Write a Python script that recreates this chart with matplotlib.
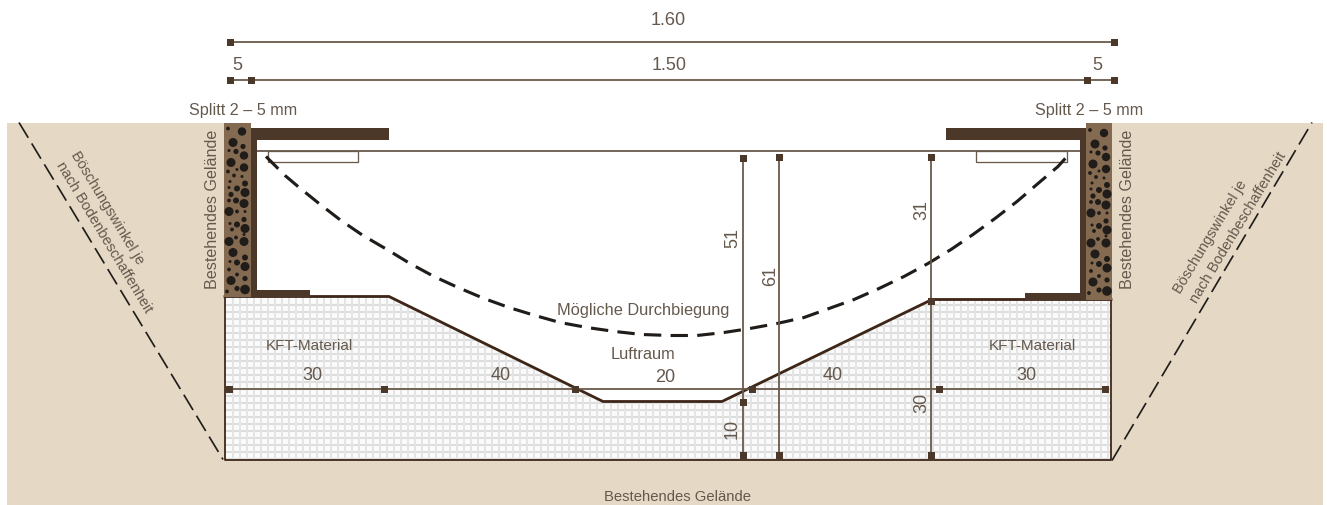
import matplotlib
matplotlib.use("Agg")
import matplotlib.pyplot as plt
from matplotlib.patches import Polygon, Rectangle, Circle

plt.rcParams["font.family"] = ["Liberation Sans", "DejaVu Sans"]

TAN = "#e5d9c6"
GRAVEL = "#836a50"
DARK = "#4b3828"
PROFILE = "#3d2617"
DIM = "#6a5a4a"
TEXT = "#65584c"
BLACK = "#1f1c1a"

# all coordinates are pixels of the reference
profile_x = [225, 389, 603, 722, 932, 1111]
profile_y = [297, 297, 402, 402, 300, 300]
pit_bottom = 460

sag_x = [266, 285, 298, 319, 341, 363, 387, 410, 434, 458, 484, 509, 535, 560, 587, 615, 642, 670, 697,
         724, 750, 777, 804, 829, 854, 879, 904, 928, 951, 973, 995, 1017, 1038, 1058, 1067]
sag_y = [157, 176, 187, 204, 221, 236, 250, 264, 277, 288, 299, 308, 316, 323, 328, 332, 335, 336, 336,
         333, 329, 324, 318, 309, 300, 289, 277, 264, 250, 235, 219, 202, 184, 167, 157]

slope_left_x = [19, 223]
slope_left_y = [123, 460]
slope_right_x = [1112, 1312]
slope_right_y = [461, 123]

# gravel dots, x offset from the left edge of the strip, y, radius
dots_x = [4, 18, 9, 19, 5, 12, 20, 7, 20, 13, 4, 10, 18, 6, 21, 5, 13, 21, 7, 12, 5, 20, 5, 13,
          21, 20, 6, 13, 21, 8, 20, 5, 12, 20, 9, 21, 6, 13, 21, 5, 13, 7, 21, 3, 13, 21]
dots_y = [129, 132, 143, 147, 151, 152, 156, 163, 168, 170, 172, 176, 177, 182, 184, 188, 189, 193,
          195, 201, 201, 204, 212, 212, 212, 220, 224, 225, 229, 230, 235, 242, 238, 242, 253, 258,
          262, 263, 267, 270, 275, 281, 279, 292, 289, 290]
dots_r = [1.9, 4.2, 4.5, 2.6, 1.5, 2.6, 4.2, 4.5, 4.2, 1.5, 1.9, 1.9, 1.5, 1.5, 3, 1.5, 3, 4.5, 2.6,
          3, 1.9, 4.5, 4.5, 1.9, 1.5, 2.6, 1.5, 3, 4.5, 1.9, 1.5, 4.5, 1.9, 4.5, 4.5, 3, 1.5, 3, 4.5,
          1.9, 1.9, 4.5, 2.6, 1.9, 2.6, 4.8]

dim_h = [
    (42, 230, 1114, [230, 1114]),
    (80, 230, 1114, [230, 251, 1087, 1114]),
    (389, 229, 1105, [229, 384, 575, 752, 939, 1105]),
]
dim_v = [
    (743, 158, 455, [158, 402, 455]),
    (779, 157, 455, [157, 455]),
    (931, 157, 455, [157, 301, 455]),
]

labels = [
    ("1.60", 668, 20, 0, 13),
    ("5", 237, 65, 0, 13),
    ("1.50", 669, 65, 0, 13),
    ("5", 1097, 65, 0, 13),
    ("Splitt 2 – 5 mm", 243, 110, 0, 11.6),
    ("Splitt 2 – 5 mm", 1089, 110, 0, 11.6),
    ("Bestehendes Gelände", 212.5, 209, 90, 11.6),
    ("Bestehendes Gelände", 1127.5, 209, 90, 11.6),
    ("Bestehendes Gelände", 678, 497, 0, 10.7),
    ("Mögliche Durchbiegung", 643, 310, 0, 11.8),
    ("Luftraum", 643, 354, 0, 11.8),
    ("KFT-Material", 309, 345, 0, 11),
    ("KFT-Material", 1032, 345, 0, 11),
    ("30", 312, 375, 0, 13),
    ("40", 501, 375, 0, 13),
    ("20", 665, 377, 0, 13),
    ("40", 833, 375, 0, 13),
    ("30", 1026, 375, 0, 13),
    ("51", 732.5, 237, 90, 13),
    ("61", 770.5, 275, 90, 13),
    ("31", 921.5, 210, 90, 13),
    ("10", 732.5, 428, 90, 13),
    ("30", 921.5, 402, 90, 13),
    ("Böschungswinkel je", 107, 207, -59, 10.5),
    ("nach Bodenbeschaffenheit", 104, 237, -59, 10.5),
    ("Böschungswinkel je", 1210, 236, 59, 10.5),
    ("nach Bodenbeschaffenheit", 1238, 227, 59, 10.5),
]

px = 72 / 100  # one reference pixel in points

fig = plt.figure(figsize=(13.27, 5.06), dpi=100)
ax = fig.add_axes([0, 0, 1, 1])
ax.set_xlim(0, 1327)
ax.set_ylim(505.5, -0.5)
ax.axis("off")

# ground and white trench
ax.add_patch(Rectangle((7, 123), 1316, 382, fc=TAN, ec="none", zorder=1))
ax.add_patch(Rectangle((224, 123), 888, 280, fc="white", ec="none", zorder=1))

# fill with its grid
pit_pts = list(zip(profile_x, profile_y)) + [(1111, pit_bottom), (225, pit_bottom)]
pit = Polygon(pit_pts, closed=True, fc="#fbfbfb", ec="none", zorder=2)
ax.add_patch(pit)
for y in range(305, pit_bottom, 7):
    line, = ax.plot([225, 1111], [y, y], color="#dcdddd", lw=2.1 * px, zorder=2.1, solid_capstyle="butt")
    line.set_clip_path(pit)
for x in range(233, 1111, 7):
    line, = ax.plot([x, x], [297, pit_bottom], color="#e4e4e4", lw=2 * px, zorder=2.1, solid_capstyle="butt")
    line.set_clip_path(pit)
ax.plot(profile_x, profile_y, color=PROFILE, lw=2.8 * px, zorder=3, solid_joinstyle="miter")
ax.plot([225, 225, 1111, 1111], [297, pit_bottom, pit_bottom, 300], color=PROFILE, lw=1.8 * px, zorder=3)

# gravel strips, walls, plates
for left, bottom in [(224, 297), (1086, 300)]:
    ax.add_patch(Rectangle((left, 123), 27 if left == 224 else 26, bottom - 123, fc=GRAVEL, ec="none", zorder=3))
    for dx, dy, r in zip(dots_x, dots_y, dots_r):
        ax.add_patch(Circle((left + dx, dy + (bottom - 297) / 2), r, fc=BLACK, ec="none", zorder=3.2))

for x, y, w, h in [(251, 128, 138, 12), (251, 128, 6, 169), (251, 290, 59, 7),
                   (946, 128, 140, 12), (1080, 128, 6, 172), (1025, 293, 61, 7)]:
    ax.add_patch(Rectangle((x, y), w, h, fc=DARK, ec="none", zorder=3.5))

# top line and the small boxes below it
ax.plot([257, 1080], [151, 151], color=DARK, lw=1.5 * px, zorder=3)
ax.add_patch(Rectangle((268, 151), 90, 11, fc="white", ec=DIM, lw=1.3 * px, zorder=3))
ax.add_patch(Rectangle((976, 151), 91, 11, fc="white", ec=DIM, lw=1.3 * px, zorder=3))

# dashed lines
ax.plot(sag_x, sag_y, color=BLACK, lw=3.1 * px, dashes=(5.6, 3.0), dash_capstyle="butt", zorder=4)
ax.plot(slope_left_x, slope_left_y, color=BLACK, lw=1.7 * px, dashes=(10.5, 3.9), dash_capstyle="butt", zorder=2)
ax.plot(slope_right_x, slope_right_y, color=BLACK, lw=1.7 * px, dashes=(10.5, 3.9), dash_capstyle="butt", zorder=2)

# dimension lines
for y, x0, x1, ticks in dim_h:
    ax.plot([x0, x1], [y, y], color=DIM, lw=1.8 * px, zorder=5, solid_capstyle="butt")
    ax.plot(ticks, [y] * len(ticks), ls="none", marker="s", ms=7 * px, color=DARK, mew=0, zorder=6)
for x, y0, y1, ticks in dim_v:
    ax.plot([x, x], [y0, y1], color=DIM, lw=1.8 * px, zorder=5, solid_capstyle="butt")
    ax.plot([x] * len(ticks), ticks, ls="none", marker="s", ms=7 * px, color=DARK, mew=0, zorder=6)

for s, x, y, rot, size in labels:
    ax.text(x, y, s, rotation=rot, fontsize=size, color=TEXT, ha="center", va="center",
            rotation_mode="anchor", zorder=7)

fig.savefig("out.png", dpi=100)
